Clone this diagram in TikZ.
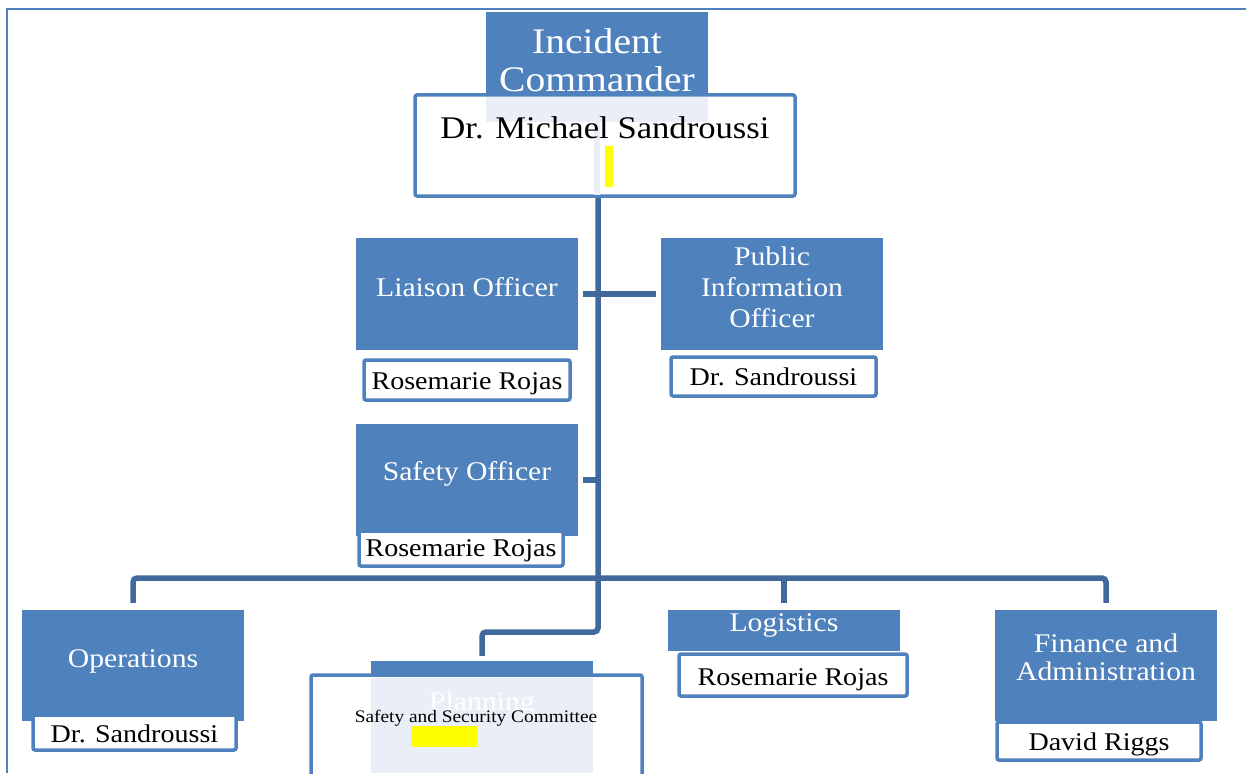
\documentclass[tikz,border=0pt]{standalone}
\usepackage{fontspec}
\setmainfont[FakeStretch=1.1]{Liberation Serif}
\definecolor{ob}{HTML}{4F81BD}
\definecolor{cb}{HTML}{41699B}
\definecolor{pale}{HTML}{EAEFF7}
\definecolor{hl}{HTML}{FFFF00}
\begin{document}
\begin{tikzpicture}[x=1pt,y=-1pt,
 bluebox/.style={fill=ob, draw=none, inner sep=0pt},
 namebox/.style={fill=white, draw=ob, line width=3.5pt, rounded corners=2pt, inner sep=0pt},
 conn/.style={draw=cb, line width=5.5pt, rounded corners=4pt},
 wt/.style={text=white, align=center, inner sep=0pt, font=\fontsize{27}{31}\selectfont},
 bt/.style={text=black, align=center, inner sep=0pt, font=\fontsize{25.5}{30}\selectfont},
]
\useasboundingbox (0,0) rectangle (1246,773);
% page frame
\draw[ob, line width=2pt] (7,773) -- (7,9) -- (1246,9);

% Incident commander
\node[bluebox, minimum width=222pt, minimum height=81pt] (ic) at (597,52.5) {};
\node[namebox, minimum width=380pt, minimum height=101pt] (mic) at (605,145.5) {};
\fill[pale] (486,97) rectangle (708,122);
\fill[pale] (594,122) rectangle (600,195);
\fill[hl] (605,146) rectangle (613,187);
\node[wt, font=\fontsize{36}{38}\selectfont] (ict) at (597,60) {Incident\\Commander};
\node[bt, font=\fontsize{31.5}{36}\selectfont] (mict) at (605,128) {Dr. Michael Sandroussi};

% Liaison
\node[bluebox, minimum width=222pt, minimum height=112pt] (lia) at (467,294) {};
\node[wt] (liat) at (467,287) {Liaison Officer};
\node[namebox, minimum width=206pt, minimum height=40pt] (lian) at (467,380) {};
\node[bt] (liant) at (467,384) {Rosemarie Rojas};

% Public information
\node[bluebox, minimum width=222pt, minimum height=112pt] (pio) at (772,294) {};
\node[wt] (piot) at (772,287) {Public\\Information\\Officer};
\node[namebox, minimum width=205pt, minimum height=39pt] (pion) at (773.5,376.5) {};
\node[bt] (piont) at (773.5,377) {Dr. Sandroussi};

% Safety
\node[bluebox, minimum width=222pt, minimum height=112pt] (saf) at (467,480) {};
\node[wt] (saft) at (467,474) {Safety Officer};
\node[namebox, minimum width=204pt, minimum height=35pt] (safn) at (461,548.5) {};
\node[bt] (safnt) at (461,551) {Rosemarie Rojas};

% Operations
\node[bluebox, minimum width=222pt, minimum height=111pt] (ops) at (133,665.5) {};
\node[wt] (opst) at (133,661) {Operations};
\node[namebox, minimum width=203pt, minimum height=35pt] (opsn) at (134.5,732.5) {};
\node[bt] (opsnt) at (134.5,734) {Dr. Sandroussi};

% Planning
\node[bluebox, minimum width=222pt, minimum height=112pt] (pl) at (482,717) {};
\node[namebox, minimum width=331pt, minimum height=125pt] (pln) at (476.5,737.5) {};
\fill[pale] (371,678) rectangle (593,773);
\node[wt] (plt) at (482,704) {Planning};
\node[bt, font=\fontsize{17.6}{20}\selectfont] (plnt) at (476,718) {Safety and Security Committee};
\fill[hl] (411,726) rectangle (477,747);

% Logistics
\node[bluebox, minimum width=232pt, minimum height=41pt] (lg) at (784,630.5) {};
\node[wt] (lgt) at (784,625) {Logistics};
\node[namebox, minimum width=228pt, minimum height=42pt] (lgn) at (793,675) {};
\node[bt] (lgnt) at (793,680) {Rosemarie Rojas};

% Finance
\node[bluebox, minimum width=222pt, minimum height=111pt] (fin) at (1106,665.5) {};
\node[wt, font=\fontsize{27}{28}\selectfont] (fint) at (1106,657) {Finance and\\Administration};
\node[namebox, minimum width=204pt, minimum height=38pt] (finn) at (1099,741) {};
\node[bt] (finnt) at (1099,744) {David Riggs};

% connectors
\coordinate (j) at (598,578);
\coordinate (k) at (598,632);
\draw[conn, shorten >=5pt] (j |- mic.south) -- (k) -| (pl.north);
\draw[conn, shorten <=7pt, shorten >=7pt] (ops.north) -- (ops.north |- j) -- (fin.north |- j) -- (fin.north);
\draw[conn, shorten >=7pt] (lg.north |- j) -- (lg.north);
\draw[conn, shorten <=5pt, shorten >=5pt] (lia.east) -- (pio.west);
\draw[conn, shorten <=5pt] (saf.east) -- (saf.east -| j);
\end{tikzpicture}
\end{document}
